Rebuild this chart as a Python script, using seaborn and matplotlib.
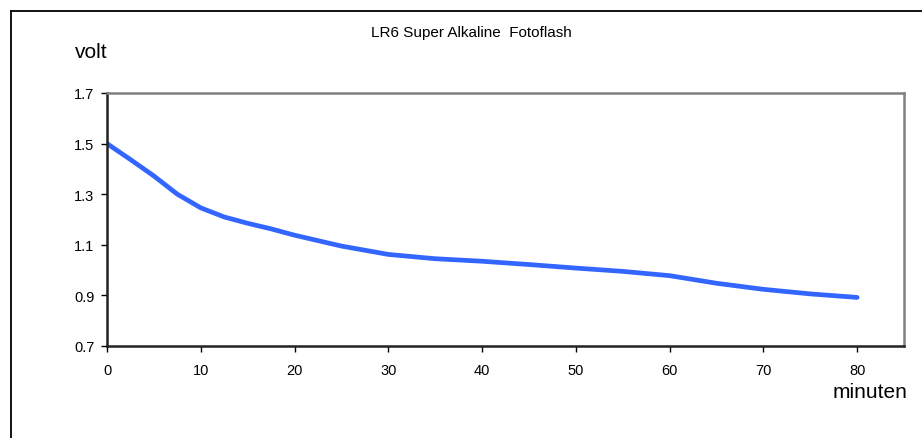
import numpy as np
import pandas as pd
import seaborn as sns
import matplotlib.pyplot as plt
from matplotlib.lines import Line2D

# data
minuten = [0, 2.5, 5, 7.5, 10, 12.5, 15, 17.5, 20, 25, 30, 35, 40, 45, 50,
           55, 60, 65, 70, 75, 80]
volt = [1.50, 1.437, 1.372, 1.30, 1.246, 1.21, 1.185, 1.163, 1.138, 1.095,
        1.062, 1.045, 1.035, 1.022, 1.008, 0.995, 0.978, 0.948, 0.924, 0.906,
        0.892]
x_ticks = [0, 10, 20, 30, 40, 50, 60, 70, 80]
y_ticks = [0.7, 0.9, 1.1, 1.3, 1.5, 1.7]

df = pd.DataFrame({"minuten": minuten, "volt": volt})

sns.set_style("white")
plt.rcParams['font.family'] = ['Liberation Sans', 'DejaVu Sans']
plt.rcParams['text.color'] = 'black'
plt.rcParams['xtick.color'] = 'black'
plt.rcParams['ytick.color'] = 'black'

fig = plt.figure(figsize=(9.22, 4.39), dpi=100)
ax = fig.add_axes([107 / 922, 92 / 439, (904 - 107) / 922, (346 - 93) / 439])

sns.lineplot(data=df, x="minuten", y="volt", ax=ax, color="#3366FF",
             linewidth=3.4, solid_capstyle="round", solid_joinstyle="round")

ax.set_xlim(0, 85)
ax.set_ylim(0.7, 1.7)
ax.set_xticks(x_ticks)
ax.set_yticks(y_ticks)
ax.set_yticklabels([f"{v:.1f}" for v in y_ticks])
ax.set_xlabel("")
ax.set_ylabel("")
ax.tick_params(axis="both", direction="out", length=4, width=1,
               labelsize=10.5, bottom=True, left=True)
ax.tick_params(axis="x", pad=8)
ax.tick_params(axis="y", pad=5)

for s in ["left", "bottom"]:
    ax.spines[s].set_color("#222222")
    ax.spines[s].set_linewidth(1.8)
for s in ["top", "right"]:
    ax.spines[s].set_color("#808080")
    ax.spines[s].set_linewidth(1.8)

fig.text(471 / 922, 1 - 33 / 439, "LR6 Super Alkaline  Fotoflash",
         ha="center", va="center", fontsize=11)
fig.text(75 / 922, 1 - 52 / 439, "volt", ha="left", va="center", fontsize=15)
fig.text(907 / 922, 1 - 393 / 439, "minuten", ha="right", va="center", fontsize=15)

# outer frame (right and bottom edges fall outside the image)
fx, fy = 10.5 / 922, 1 - 12 / 439
fig.add_artist(Line2D([fx, fx], [0, fy], transform=fig.transFigure,
                      color="black", linewidth=1.3))
fig.add_artist(Line2D([fx, 1], [fy, fy], transform=fig.transFigure,
                      color="black", linewidth=1.3))

fig.savefig("out.png", dpi=100)
